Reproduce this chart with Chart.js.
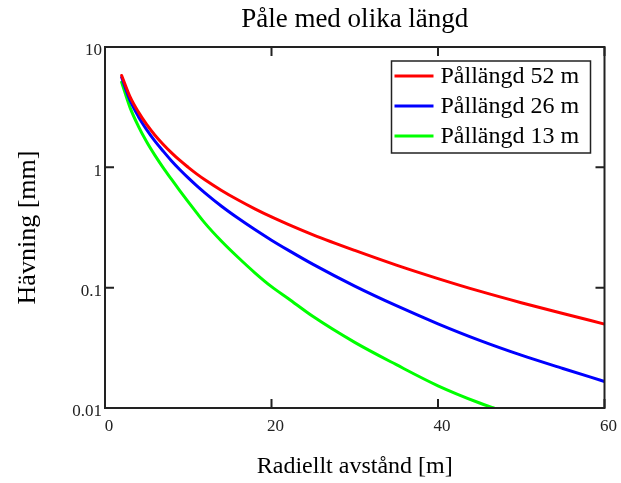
<!DOCTYPE html>
<html>
<head>
<meta charset="utf-8">
<script src="https://cdn.jsdelivr.net/npm/chart.js@4.4.1/dist/chart.umd.min.js"></script>
<style>
  html, body { margin: 0; padding: 0; background: #fff; }
  #wrap { width: 621px; height: 483px; }
</style>
</head>
<body>
<div id="wrap"><canvas id="chart" width="621" height="483"></canvas></div>
<script>
// values (x in m, y in mm)
const xLong = [2, 3, 4, 5, 6, 7, 8, 9, 10, 11, 12, 14, 16, 18, 20, 22, 25, 30, 35, 40, 45, 50, 55, 60];
const pile52 = [5.8, 3.87, 2.89, 2.27, 1.85, 1.55, 1.32, 1.14, 1.0, 0.883, 0.789, 0.643, 0.535, 0.452,
  0.387, 0.336, 0.275, 0.204, 0.154, 0.119, 0.0935, 0.075, 0.061, 0.0498];
const pile26 = [5.6, 3.61, 2.65, 2.06, 1.65, 1.36, 1.13, 0.955, 0.817, 0.705, 0.614, 0.475, 0.377, 0.304,
  0.248, 0.205, 0.156, 0.103, 0.0708, 0.0501, 0.0365, 0.0275, 0.0213, 0.0166];
const xShort = [2, 3, 4, 5, 6, 7, 8, 9, 10, 11, 12, 14, 16, 18, 20, 22, 25, 30, 35, 40, 45, 46.7];
const pile13 = [5.1, 3.15, 2.20, 1.63, 1.256, 0.989, 0.794, 0.638, 0.516, 0.420, 0.344, 0.243, 0.178, 0.133,
  0.102, 0.0813, 0.0575, 0.0351, 0.0229, 0.0153, 0.0110, 0.0100];

const seriesLabels = ['Pållängd 52 m', 'Pållängd 26 m', 'Pållängd 13 m'];
const seriesColors = ['#ff0000', '#0000ff', '#00ff00'];
const xTicks = [0, 20, 40, 60];
const yTicks = [0.01, 0.1, 1, 10];
const yTickLabels = ['0.01', '0.1', '1', '10'];

const chartTitle = 'Påle med olika längd';
const xTitle = 'Radiellt avstånd [m]';
const yTitle = 'Hävning [mm]';

const serif = "'Liberation Serif', 'Times New Roman', serif";

const toPoints = (xs, ys) => xs.map((x, i) => ({ x: x, y: ys[i] }));

// frame, inward ticks, title and boxed legend
const decorations = {
  id: 'decorations',
  afterDraw(chart) {
    const { ctx, chartArea: a, scales } = chart;
    ctx.save();
    ctx.strokeStyle = '#222';
    ctx.lineWidth = 2;
    ctx.strokeRect(a.left, a.top, a.right - a.left, a.bottom - a.top);

    const len = 9;
    ctx.beginPath();
    xTicks.forEach(v => {
      const px = scales.x.getPixelForValue(v);
      ctx.moveTo(px, a.bottom); ctx.lineTo(px, a.bottom - len);
      ctx.moveTo(px, a.top); ctx.lineTo(px, a.top + len);
    });
    yTicks.forEach(v => {
      const py = scales.y.getPixelForValue(v);
      ctx.moveTo(a.left, py); ctx.lineTo(a.left + len, py);
      ctx.moveTo(a.right, py); ctx.lineTo(a.right - len, py);
    });
    ctx.stroke();

    // title
    ctx.fillStyle = '#000';
    ctx.font = '27px ' + serif;
    ctx.textAlign = 'center';
    ctx.textBaseline = 'middle';
    ctx.fillText(chartTitle, (a.left + a.right) / 2, a.top - 27);

    // legend
    const boxR = a.right - 14, boxL = boxR - 199, boxT = a.top + 14, boxB = boxT + 92;
    ctx.lineWidth = 1.5;
    ctx.strokeRect(boxL, boxT, boxR - boxL, boxB - boxT);
    ctx.textAlign = 'left';
    ctx.font = '24px ' + serif;
    chart.data.datasets.forEach((ds, i) => {
      const y = boxT + 15 + i * 30;
      ctx.strokeStyle = ds.borderColor;
      ctx.lineWidth = 3;
      ctx.beginPath();
      ctx.moveTo(boxL + 3, y); ctx.lineTo(boxL + 42, y);
      ctx.stroke();
      ctx.fillStyle = '#000';
      ctx.fillText(ds.label, boxL + 49, y + 1);
    });
    ctx.restore();
  }
};

new Chart(document.getElementById('chart'), {
  type: 'line',
  data: {
    datasets: [
      { label: seriesLabels[0], data: toPoints(xLong, pile52), borderColor: seriesColors[0] },
      { label: seriesLabels[1], data: toPoints(xLong, pile26), borderColor: seriesColors[1] },
      { label: seriesLabels[2], data: toPoints(xShort, pile13), borderColor: seriesColors[2] }
    ].map(d => Object.assign(d, {
      borderWidth: 3,
      pointRadius: 0,
      fill: false,
      cubicInterpolationMode: 'monotone',
      borderCapStyle: 'round'
    }))
  },
  options: {
    responsive: false,
    animation: false,
    layout: { padding: { top: 47, right: 15, left: 0, bottom: 0 } },
    plugins: {
      legend: { display: false },
      tooltip: { enabled: false }
    },
    scales: {
      x: {
        type: 'linear',
        min: 0,
        max: 60,
        afterBuildTicks: s => { s.ticks = xTicks.map(v => ({ value: v })); },
        afterFit: s => { s.height = 75; },
        grid: { display: false, drawTicks: false },
        border: { display: false },
        ticks: {
          color: '#222',
          font: { family: serif, size: 17 },
          padding: 8,
          labelOffset: 4,
          maxRotation: 0
        },
        title: {
          display: true,
          text: xTitle,
          color: '#000',
          font: { family: serif, size: 24 },
          padding: { top: 0, bottom: 2 }
        }
      },
      y: {
        type: 'logarithmic',
        min: 0.01,
        max: 10,
        afterBuildTicks: s => { s.ticks = yTicks.map(v => ({ value: v })); },
        afterFit: s => { s.width = 105; },
        grid: { display: false, drawTicks: false },
        border: { display: false },
        ticks: {
          color: '#222',
          font: { family: serif, size: 17 },
          padding: 3,
          labelOffset: 4,
          callback: v => yTickLabels[yTicks.indexOf(v)] ?? ''
        },
        title: {
          display: true,
          text: yTitle,
          color: '#000',
          font: { family: serif, size: 26 },
          padding: { top: 13, bottom: 0 }
        }
      }
    }
  },
  plugins: [decorations]
});
</script>
</body>
</html>
